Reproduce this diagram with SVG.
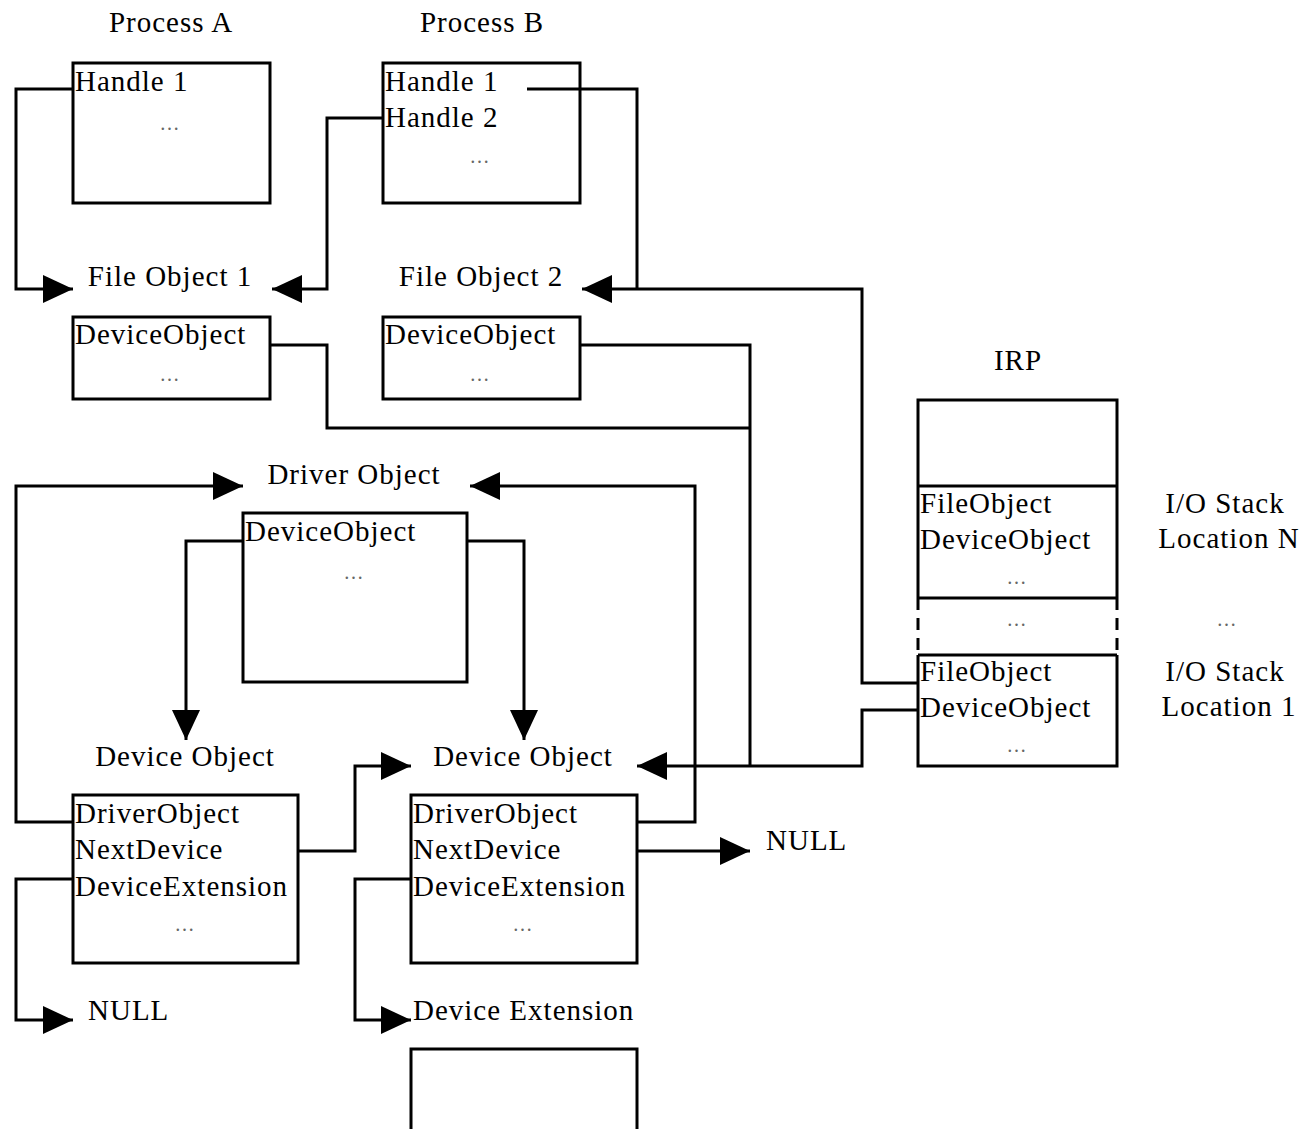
<svg xmlns="http://www.w3.org/2000/svg" width="1303" height="1129" viewBox="0 0 1303 1129">
<style>
text{font-family:'Liberation Serif','Times New Roman',serif;font-size:29px;fill:#000;letter-spacing:1px}
.c{text-anchor:middle}
.d{font-size:20px;fill:#666;text-anchor:middle;letter-spacing:3px}
.box{fill:#fff;stroke:#000;stroke-width:3}
.ln{fill:none;stroke:#000;stroke-width:3}
.cn{fill:none;stroke:#000;stroke-width:3;stroke-linejoin:miter}
</style>
<defs>
<marker id="ah" markerUnits="userSpaceOnUse" markerWidth="30" markerHeight="28" refX="30" refY="14" orient="auto">
<path d="M0,0 L30,14 L0,28 z" fill="#000"/>
</marker>
</defs>
<rect width="1303" height="1129" fill="#fff"/>

<g id="connectors">
<path class="cn" d="M73,89 H16 V289 H73" marker-end="url(#ah)"/>
<path class="cn" d="M383,118 H327 V289 H272" marker-end="url(#ah)"/>
<path class="cn" d="M527,89 H637 V289"/>
<path class="cn" d="M918,683 H862 V289 H582" marker-end="url(#ah)"/>
<path class="cn" d="M270,345 H327 V428 H750"/>
<path class="cn" d="M580,345 H750 V766"/>
<path class="cn" d="M918,710 H862 V766 H637" marker-end="url(#ah)"/>
<path class="cn" d="M73,822 H16 V486 H243" marker-end="url(#ah)"/>
<path class="cn" d="M637,822 H695 V486 H470" marker-end="url(#ah)"/>
<path class="cn" d="M243,541 H186 V740" marker-end="url(#ah)"/>
<path class="cn" d="M467,541 H524 V740" marker-end="url(#ah)"/>
<path class="cn" d="M298,851 H355 V766 H411" marker-end="url(#ah)"/>
<path class="cn" d="M73,879 H16 V1020 H73" marker-end="url(#ah)"/>
<path class="cn" d="M637,851 H750" marker-end="url(#ah)"/>
<path class="cn" d="M411,879 H355 V1020 H411" marker-end="url(#ah)"/>
</g>

<g id="processA">
<text class="c" x="171" y="32">Process A</text>
<rect class="box" x="73" y="63" width="197" height="140"/>
<text x="75" y="91">Handle 1</text>
<text class="d" x="171" y="130">…</text>
</g>

<g id="processB">
<text class="c" x="482" y="32">Process B</text>
<rect class="box" x="383" y="63" width="197" height="140"/>
<text x="385" y="91">Handle 1</text>
<text x="385" y="127">Handle 2</text>
<text class="d" x="481" y="163">…</text>
</g>
<path class="ln" d="M527,89 H580"/>

<g id="fileObject1">
<text class="c" x="170" y="286">File Object 1</text>
<rect class="box" x="73" y="317" width="197" height="82"/>
<text x="75" y="344">DeviceObject</text>
<text class="d" x="171" y="381">…</text>
</g>

<g id="fileObject2">
<text class="c" x="481" y="286">File Object 2</text>
<rect class="box" x="383" y="317" width="197" height="82"/>
<text x="385" y="344">DeviceObject</text>
<text class="d" x="481" y="381">…</text>
</g>

<g id="irp">
<text class="c" x="1018" y="370">IRP</text>
<path class="ln" d="M918,598 V400 H1117 V598 M918,655 V766 H1117 V655 M918,486 H1117 M918,598 H1117 M918,655 H1117"/>
<path class="ln" d="M918,598 V655 M1117,598 V655" stroke-dasharray="12 8"/>
<text x="920" y="513">FileObject</text>
<text x="920" y="549">DeviceObject</text>
<text class="d" x="1018" y="584">…</text>
<text class="d" x="1018" y="626">…</text>
<text x="920" y="681">FileObject</text>
<text x="920" y="717">DeviceObject</text>
<text class="d" x="1018" y="752">…</text>
<text class="c" x="1225" y="513">I/O Stack</text>
<text class="c" x="1229" y="548">Location N</text>
<text class="d" x="1228" y="626">…</text>
<text class="c" x="1225" y="681">I/O Stack</text>
<text class="c" x="1229" y="716">Location 1</text>
</g>

<g id="driverObject">
<text class="c" x="354" y="484">Driver Object</text>
<rect class="box" x="243" y="513" width="224" height="169"/>
<text x="245" y="541">DeviceObject</text>
<text class="d" x="355" y="579">…</text>
</g>

<g id="deviceObject1">
<text class="c" x="185" y="766">Device Object</text>
<rect class="box" x="73" y="795" width="225" height="168"/>
<text x="75" y="823">DriverObject</text>
<text x="75" y="859">NextDevice</text>
<text x="75" y="896">DeviceExtension</text>
<text class="d" x="186" y="931">…</text>
</g>

<g id="deviceObject2">
<text class="c" x="523" y="766">Device Object</text>
<rect class="box" x="411" y="795" width="226" height="168"/>
<text x="413" y="823">DriverObject</text>
<text x="413" y="859">NextDevice</text>
<text x="413" y="896">DeviceExtension</text>
<text class="d" x="524" y="931">…</text>
</g>

<g id="null1">
<text x="88" y="1020">NULL</text>
</g>
<g id="null2">
<text x="766" y="850">NULL</text>
</g>

<g id="deviceExtension">
<text x="413" y="1020">Device Extension</text>
<rect class="box" x="411" y="1049" width="226" height="100"/>
</g>
</svg>
